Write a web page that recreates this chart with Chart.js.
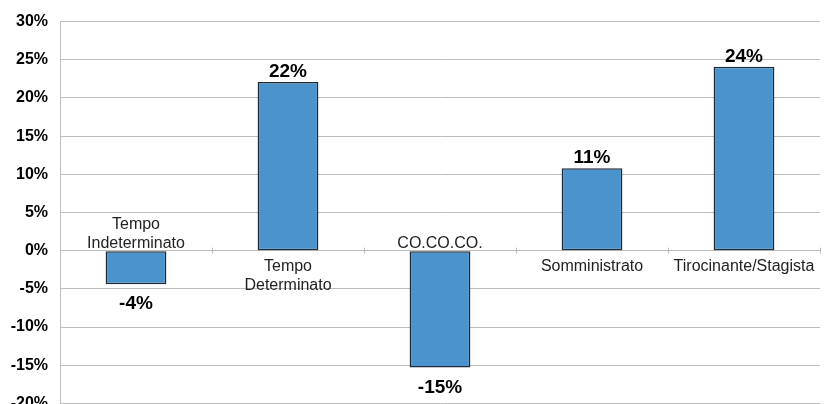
<!DOCTYPE html>
<html>
<head>
<meta charset="utf-8">
<script src="https://cdn.jsdelivr.net/npm/chart.js@4.4.1/dist/chart.umd.min.js"></script>
<style>
  html, body { margin: 0; padding: 0; background: #fff; overflow: hidden; }
  #wrap { width: 825px; height: 425px; position: relative; }
</style>
</head>
<body>
<div id="wrap"><canvas id="chart"></canvas></div>
<script>
// categories (split in lines as drawn) and the values
const categories = [
  ["Tempo", "Indeterminato"],
  ["Tempo", "Determinato"],
  ["CO.CO.CO."],
  ["Somministrato"],
  ["Tirocinante/Stagista"]
];
const values = [-4.4, 22.1, -15.3, 10.8, 24.1];
const valueLabels = ["-4%", "22%", "-15%", "11%", "24%"];
const yTicks = [-20, -15, -10, -5, 0, 5, 10, 15, 20, 25, 30];

const font = "'Liberation Sans', Arial, Helvetica, sans-serif";

// draws the category names next to the zero line, the value labels and
// the small ticks on the zero line
const labelPlugin = {
  id: "labels",
  afterDatasetsDraw(chart) {
    const ctx = chart.ctx;
    const x = chart.scales.x;
    const y = chart.scales.y;
    const zero = y.getPixelForValue(0);
    ctx.save();

    ctx.strokeStyle = "#bdbdbd";
    ctx.lineWidth = 1;
    for (let i = 0; i < categories.length; i++) {
      const px = Math.round(x.getPixelForValue(i + 0.5)) + 0.5;
      ctx.beginPath();
      ctx.moveTo(px, zero - 3);
      ctx.lineTo(px, zero + 3);
      ctx.stroke();
    }

    ctx.textAlign = "center";
    ctx.fillStyle = "#222";
    ctx.font = "16px " + font;
    const lh = 19;
    categories.forEach((lines, i) => {
      const cx = x.getPixelForValue(i);
      if (values[i] < 0) {
        ctx.textBaseline = "alphabetic";
        lines.slice().reverse().forEach((t, k) => {
          ctx.fillText(t, cx, zero - 3 - k * lh);
        });
      } else {
        ctx.textBaseline = "alphabetic";
        lines.forEach((t, k) => {
          ctx.fillText(t, cx, zero + 20 + k * lh);
        });
      }
    });

    ctx.fillStyle = "#000";
    ctx.font = "bold 19px " + font;
    values.forEach((v, i) => {
      const cx = x.getPixelForValue(i);
      const py = y.getPixelForValue(v);
      ctx.textBaseline = "alphabetic";
      if (v < 0) {
        ctx.fillText(valueLabels[i], cx, py + 25);
      } else {
        ctx.fillText(valueLabels[i], cx, py - 5);
      }
    });
    ctx.restore();
  }
};

new Chart(document.getElementById("chart"), {
  type: "bar",
  data: {
    labels: categories.map((c) => c.join(" ")),
    datasets: [
      {
        data: values,
        backgroundColor: "#4a93cc",
        borderColor: "#1f2a36",
        borderWidth: 1.5,
        borderSkipped: false,
        barPercentage: 0.4,
        categoryPercentage: 1
      }
    ]
  },
  options: {
    responsive: true,
    maintainAspectRatio: false,
    animation: false,
    layout: { padding: { top: 10, right: 5, left: 0, bottom: 0 } },
    plugins: { legend: { display: false }, tooltip: { enabled: false } },
    scales: {
      x: {
        display: false
      },
      y: {
        min: -20,
        max: 30,
        afterBuildTicks: (scale) => {
          scale.ticks = yTicks.map((v) => ({ value: v }));
        },
        afterFit: (scale) => {
          scale.width = 60;
        },
        border: { color: "#bdbdbd" },
        grid: { color: "#bdbdbd", drawTicks: false },
        ticks: {
          padding: 12,
          color: "#000",
          font: { family: font, size: 16, weight: "bold" },
          callback: (v) => v + "%"
        }
      }
    }
  },
  plugins: [labelPlugin]
});
</script>
</body>
</html>
